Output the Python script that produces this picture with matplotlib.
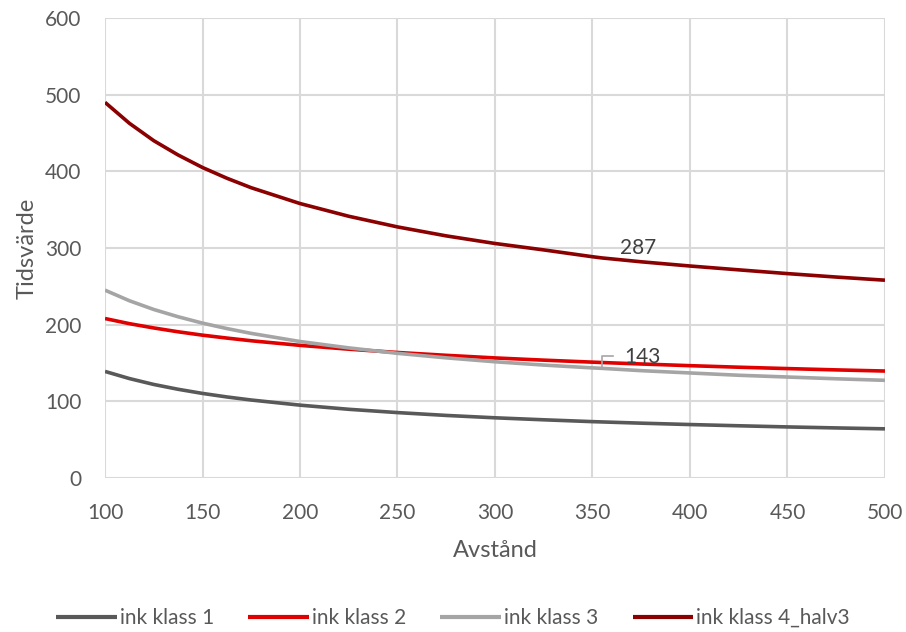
import matplotlib.pyplot as plt

plt.rcParams['font.family'] = ['Lato', 'DejaVu Sans']

# distance values and the four class curves
avstand = [100, 112.5, 125, 137.5, 150, 162.5, 175, 200, 225, 250, 275, 300, 325, 350, 355,
           375, 400, 425, 450, 475, 500]
klass1 = [139, 129.7, 122, 115.7, 110.3, 105.7, 101.7, 95, 89.6, 85.3, 81.6, 78.5, 75.9, 73.5, 73.1,
          71.5, 69.7, 68.1, 66.6, 65.3, 64.1]
klass2 = [208, 201.3, 195.7, 190.7, 186.3, 182.5, 179, 173, 168, 163.7, 160, 156.6, 153.7, 151.1, 150.6,
          148.7, 146.5, 144.5, 142.7, 141, 139.5]
klass3 = [245, 231.2, 219.8, 210.3, 202, 194.9, 188.6, 178, 169.7, 162.6, 156.7, 151.6, 147.3, 143.6, 143,
          140, 137, 134, 131.7, 129.4, 127.4]
klass4 = [490, 462.7, 440, 421.3, 405, 391, 378.6, 358, 341.4, 327.5, 315.8, 305.9, 297.5, 288.6, 287,
          282, 276.5, 271.5, 266.6, 262.1, 258]

series = [
    ("ink klass 1", klass1, "#595959"),
    ("ink klass 2", klass2, "#E00000"),
    ("ink klass 3", klass3, "#A5A5A5"),
    ("ink klass 4_halv3", klass4, "#8B0000"),
]

fig = plt.figure(figsize=(9.06, 6.32), dpi=100)
ax = fig.add_axes([0.1159, 0.2437, 0.8609, 0.7278])

for name, vals, col in series:
    ax.plot(avstand, vals, color=col, lw=2.6, label=name, solid_capstyle='butt')

# data labels at x = 355
i = avstand.index(355)
ax.text(364, klass4[i] + 13, f"{klass4[i]:.0f}", fontsize=15, color="#404040",
        ha="left", va="center")
ax.plot([355, 355, 360.5], [klass3[i], klass3[i] + 16, klass3[i] + 16],
        color="#A5A5A5", lw=1.2)
ax.text(366.5, klass3[i] + 15, f"{klass3[i]:.0f}", fontsize=15, color="#404040",
        ha="left", va="center")

ax.set_xlim(100, 500)
ax.set_ylim(0, 600)
ax.set_xticks(range(100, 501, 50))
ax.set_yticks(range(0, 601, 100))
ax.grid(True, color="#D9D9D9", lw=1.5)
ax.set_axisbelow(True)
for s in ax.spines.values():
    s.set_visible(False)
ax.tick_params(length=0, labelsize=15, labelcolor="#595959")
ax.tick_params(axis='y', pad=17)
ax.tick_params(axis='x', pad=18)

ax.set_xlabel("Avstånd", fontsize=17, color="#595959", labelpad=12)
ax.set_ylabel("Tidsvärde", fontsize=17, color="#595959", labelpad=5)

leg = fig.legend(loc="center", bbox_to_anchor=(0.5, 0.022), ncol=4, frameon=False,
                 fontsize=15, handlelength=2.9, handletextpad=0.15, columnspacing=1.65)
for t in leg.get_texts():
    t.set_color("#595959")
for h in leg.get_lines():
    h.set_linewidth(3)

fig.savefig("out.png", dpi=100)
